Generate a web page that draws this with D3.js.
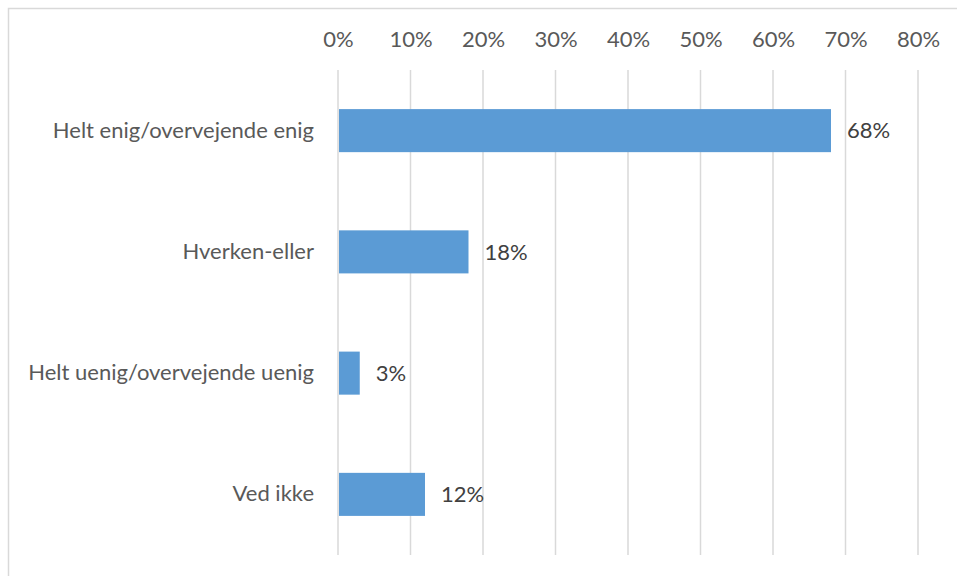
<!DOCTYPE html>
<html><head><meta charset="utf-8">
<script src="https://cdn.jsdelivr.net/npm/d3@7"></script>
<style>
html,body{margin:0;padding:0;background:#fff;}
svg{display:block;}
text{font-family:Lato,"Open Sans",sans-serif;}
</style></head>
<body>
<svg id="chart" width="957" height="576"></svg>
<script>
const categories = ["Helt enig/overvejende enig","Hverken-eller","Helt uenig/overvejende uenig","Ved ikke"];
const values = [68, 18, 3, 12];
const tickValues = [0,10,20,30,40,50,60,70,80];

const svg = d3.select("#chart");
const W = 957, H = 576;
const FONT = "Lato,'Open Sans',sans-serif";
const FS = 22;

// frame
svg.append("rect").attr("x",8.5).attr("y",8.5).attr("width",W+10).attr("height",H+10)
  .attr("fill","#fff").attr("stroke","#d9d9d9").attr("stroke-width",1.5);

const x = d3.scaleLinear().domain([0,80]).range([338,918]);
const y = d3.scaleBand().domain(categories).range([70,555]).paddingInner(0.645).paddingOuter(0.3225);

// gridlines
svg.append("g").selectAll("line").data(tickValues).join("line")
  .attr("x1",d=>x(d)).attr("x2",d=>x(d)).attr("y1",70).attr("y2",555)
  .attr("stroke","#d9d9d9").attr("stroke-width",1.5);

// top axis labels
const axis = d3.axisTop(x).tickValues(tickValues).tickFormat(d=>d+"%").tickSize(0).tickPadding(0);
const gA = svg.append("g").attr("transform","translate(0,47)").call(axis);
gA.select(".domain").remove();
gA.selectAll("text").attr("font-size",FS).attr("fill","#595959").attr("font-family",FONT);

// bars
svg.append("g").selectAll("rect").data(values).join("rect")
  .attr("x",x(0)+1).attr("y",(d,i)=>y(categories[i]))
  .attr("width",d=>x(d)-x(0)-1).attr("height",y.bandwidth())
  .attr("fill","#5b9bd5");

// category labels
const yAxis = d3.axisLeft(y).tickSize(0).tickPadding(24);
const gY = svg.append("g").attr("transform",`translate(${x(0)},0)`).call(yAxis);
gY.select(".domain").remove();
gY.selectAll("text").attr("font-size",FS).attr("fill","#595959").attr("font-family",FONT);

// data labels
svg.append("g").selectAll("text").data(values).join("text")
  .attr("x",d=>x(d)+16).attr("y",(d,i)=>y(categories[i])+y.bandwidth()/2)
  .attr("dy","0.35em").attr("font-size",FS).attr("fill","#404040").attr("font-family",FONT)
  .text(d=>d+"%");
</script>
</body></html>
